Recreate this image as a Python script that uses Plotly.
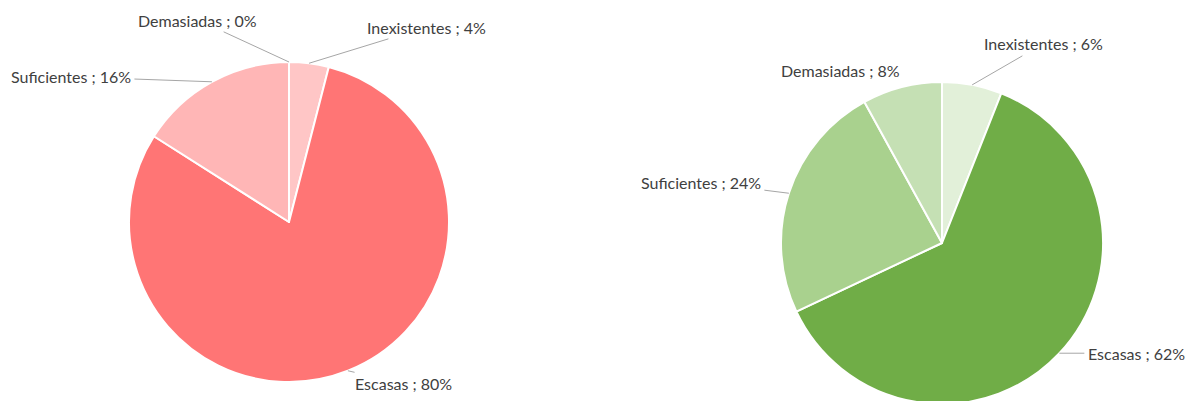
import math
import plotly.graph_objects as go

categories = ["Inexistentes", "Escasas", "Suficientes", "Demasiadas"]
left_values = [4, 80, 16, 0]
right_values = [6, 62, 24, 8]

left_colors = ["#FFC6C6", "#FF7575", "#FFB6B6", "#FFD9D9"]
right_colors = ["#E2F0D9", "#70AD47", "#A9D18E", "#C5E0B4"]

W, H = 1198, 401
PAGE = 8  # browser body margin

# pie placement (screen pixels): center x, center y (from top), radius
left_geo = (289 - PAGE, 222 - PAGE, 160)
right_geo = (942 - PAGE, 243 - PAGE, 161)

# label offsets (pixels, text centre relative to slice edge point)
left_offsets = {"Inexistentes": (117, -36), "Escasas": (56, 13),
                "Suficientes": (-141, -5), "Demasiadas": (-91, -42)}
right_offsets = {"Inexistentes": (71, -41), "Escasas": (77, 0),
                 "Suficientes": (-88, -11), "Demasiadas": (-61, -17)}
hide_leader = {("right", "Demasiadas")}

FONT = dict(family="Lato, Open Sans, sans-serif", size=16, color="#404040")


def domain(geo):
    cx, cy, r = geo
    return dict(x=[(cx - r) / W, (cx + r) / W],
                y=[max(0, (H - cy - r) / H), min(1, (H - cy + r) / H)])


fig = go.Figure()
annotations = []
for side, vals, cols, geo, offs in [
    ("left", left_values, left_colors, left_geo, left_offsets),
    ("right", right_values, right_colors, right_geo, right_offsets),
]:
    fig.add_trace(go.Pie(
        labels=categories, values=vals, sort=False, direction="clockwise",
        rotation=0, textinfo="none", hoverinfo="label+percent",
        marker=dict(colors=cols, line=dict(color="white", width=2)),
        domain=domain(geo), showlegend=False,
    ))
    total = sum(vals)
    cx, cy, r = geo
    cum = 0
    for cat, v in zip(categories, vals):
        mid = (cum + v / 2) / total * 2 * math.pi
        cum += v
        ex = cx + r * math.sin(mid)
        ey = cy - r * math.cos(mid)
        ax, ay = offs[cat]
        pct = round(v / total * 100)
        annotations.append(dict(
            x=ex / W, y=(H - ey) / H, xref="paper", yref="paper",
            text=f"{cat} ; {pct}%", showarrow=True, arrowhead=0,
            arrowwidth=1,
            arrowcolor="rgba(0,0,0,0)" if (side, cat) in hide_leader else "#A6A6A6",
            ax=ax, ay=ay, font=FONT, standoff=0, startstandoff=2,
        ))

fig.update_layout(
    width=W, height=H, margin=dict(l=0, r=0, t=0, b=0),
    paper_bgcolor="white", plot_bgcolor="white",
    annotations=annotations,
)
fig.write_html("out.html")
